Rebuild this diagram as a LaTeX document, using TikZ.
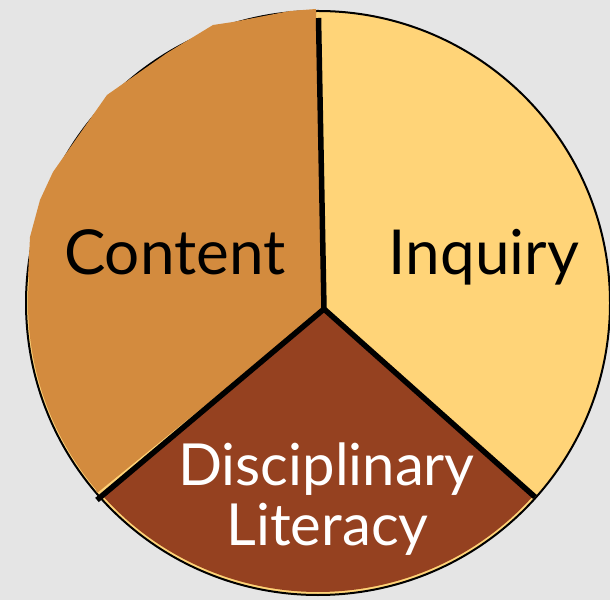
\documentclass[tikz,border=0pt]{standalone}
\usepackage{fontspec}
\setmainfont{Lato}
\usepackage{tikz}
\usetikzlibrary{positioning}

\definecolor{bggray}{RGB}{229,229,229}
\definecolor{contentorange}{RGB}{211,139,62}
\definecolor{inquiryyellow}{RGB}{255,212,120}
\definecolor{literacybrown}{RGB}{149,65,32}

\begin{document}
\begin{tikzpicture}[x=1pt, y=1pt,
    divider/.style={line width=5.5pt, line join=miter},
    toplabel/.style={font=\fontsize{62}{70}\selectfont, inner sep=0pt, anchor=base},
    lowlabel/.style={font=\fontsize{58}{60}\selectfont, inner sep=0pt, anchor=base, white}]
    % Background
    \fill[bggray] (0,0) rectangle (610,600);
    \useasboundingbox (0,0) rectangle (610,600);

    \coordinate (C) at (318,297);
    \coordinate (J) at (324,291);
    \coordinate (T) at (318.5,582);
    \coordinate (LL) at (97,100);
    \coordinate (LR) at (535,103);

    % Disc, inquiry colour underneath
    \fill[inquiryyellow] (C) circle[radius=292];
    \draw[line width=2pt] (C) circle[radius=292];

    % Literacy wedge, a little inside the rim
    \fill[literacybrown] (J) -- ([shift={(221.7:289)}]C)
        arc[start angle=221.7, end angle=318.5, radius=289] -- cycle;

    % Content piece, cut out roughly
    \fill[contentorange] (J) -- (316,591) -- (290,589) -- (233,578) -- (213,575)
        -- (167,547) -- (107,505) -- (53,428) -- (40,400) -- (30,363) -- (28,323)
        -- ([shift={(174.9:290)}]C) arc[start angle=174.9, end angle=220, radius=290]
        -- (97,107) -- cycle;

    % Dividers
    \draw[divider] (T) -- (J) -- (LL);
    \draw[divider] (J) -- (LR);

    % Labels
    \node[toplabel] (content) at (174.7,325) {Content};
    \node[toplabel] (inquiry) at (484,325) {Inquiry};
    \node[lowlabel] (discipl) at (326.5,115) {Disciplinary};
    \node[lowlabel] (literacy) at (327.5,55) {Literacy};
\end{tikzpicture}
\end{document}
